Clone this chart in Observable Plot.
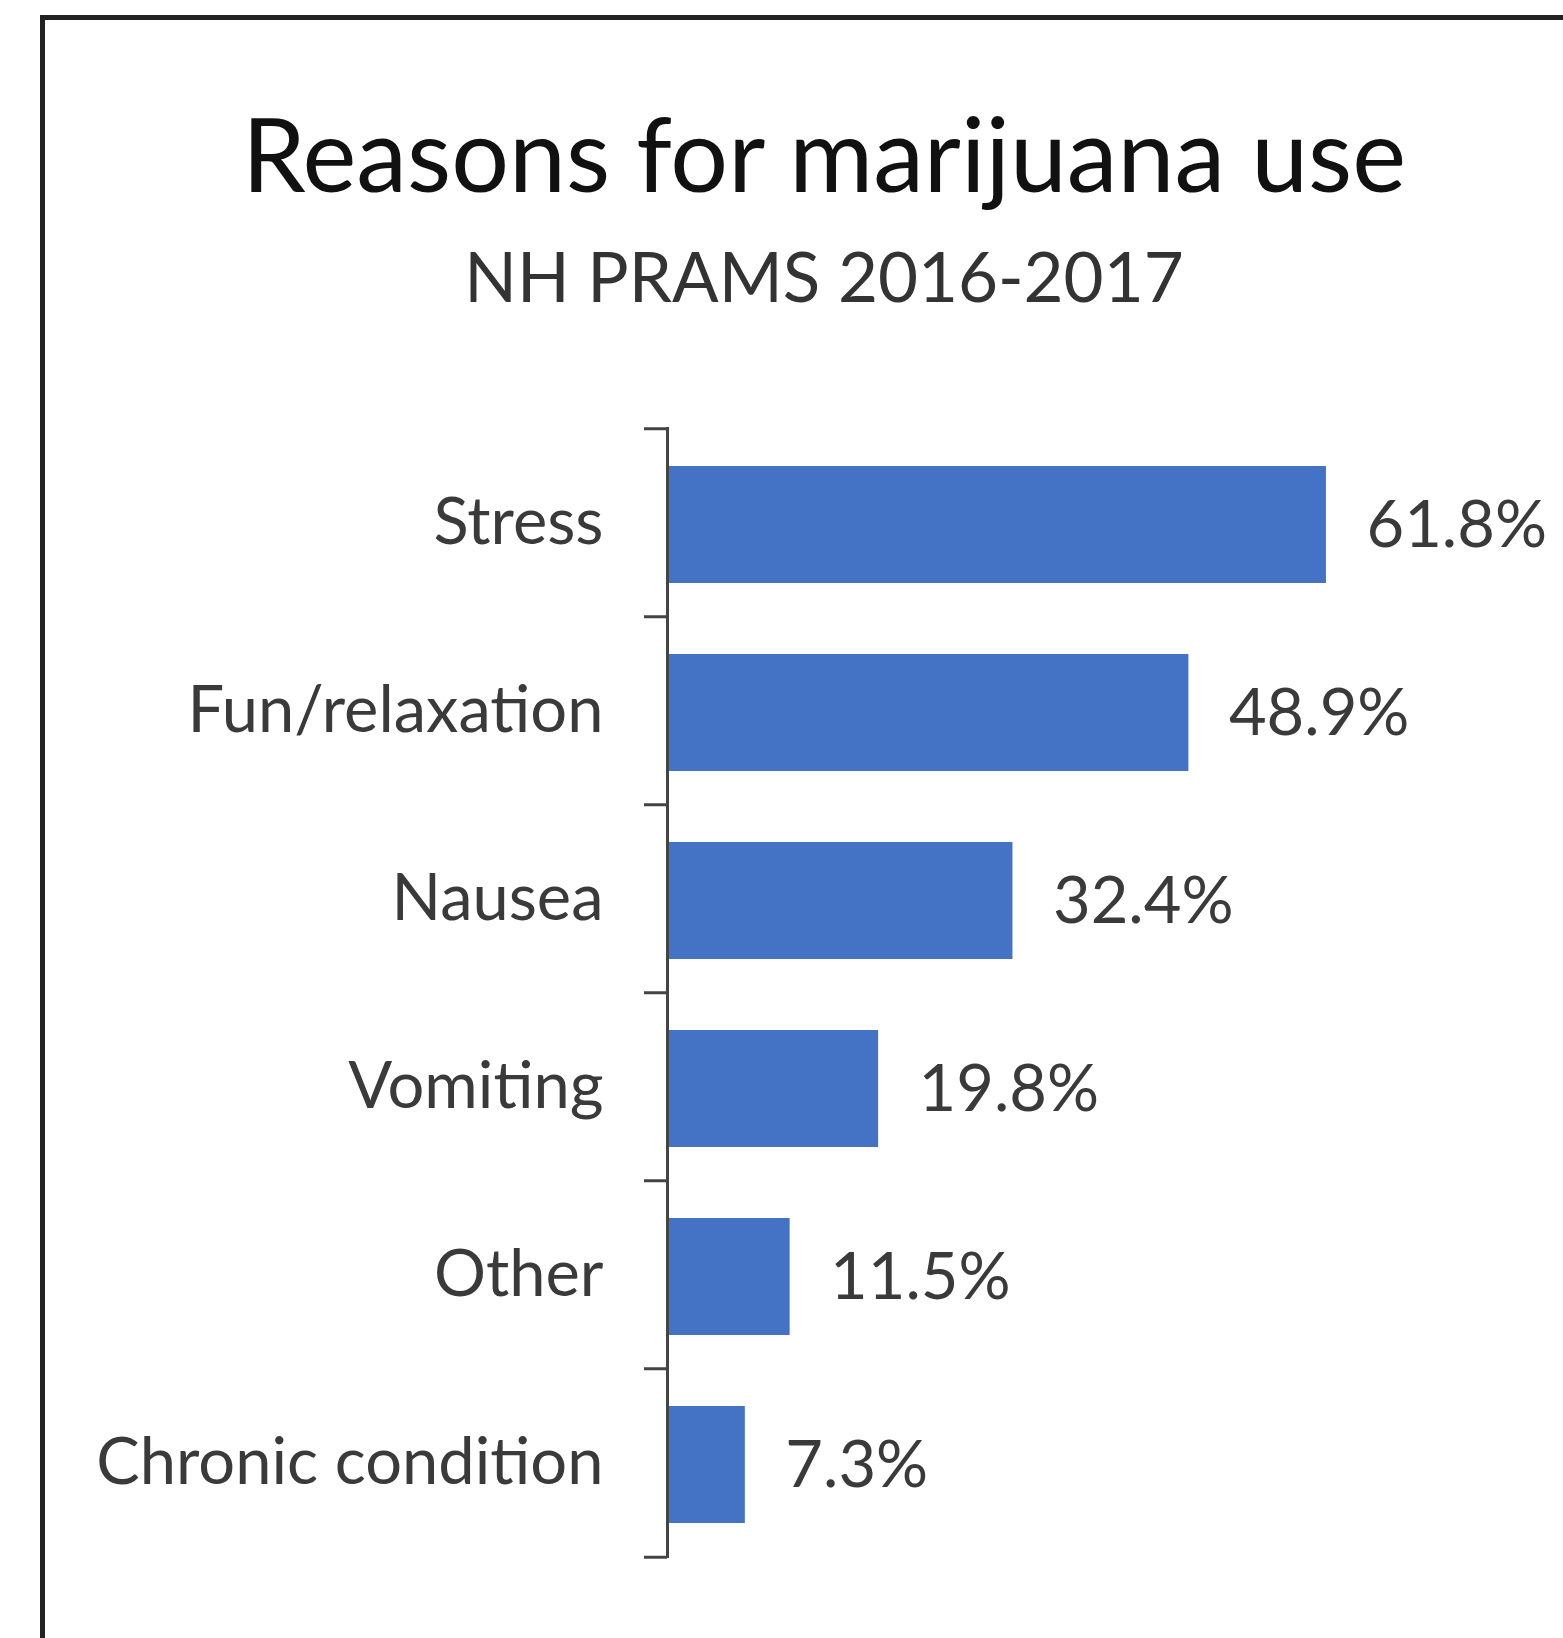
<!DOCTYPE html>
<html>
<head>
<meta charset="utf-8">
<script src="https://cdn.jsdelivr.net/npm/d3@7"></script>
<script src="https://cdn.jsdelivr.net/npm/@observablehq/plot@0.6"></script>
<style>
  html, body { margin: 0; padding: 0; background: #fff; overflow: hidden; }
  #page { position: relative; width: 1563px; height: 1638px; overflow: hidden; }
  #frame { position: absolute; left: 40px; top: 15px; width: 1700px; height: 1700px;
           border-left: 5px solid #222; border-top: 5px solid #222; box-sizing: border-box; }
  .ttl { position: absolute; left: 0; width: 1648px; text-align: center; font-family: Lato, sans-serif;
         line-height: 1; white-space: nowrap; }
  #title { top: 102px; font-size: 102px; color: #111; }
  #subtitle { top: 241px; font-size: 69px; color: #333; }
  #plot { position: absolute; left: 0; top: 340px; }
</style>
</head>
<body>
<div id="page">
  <div id="frame"></div>
  <div id="title" class="ttl">Reasons for marijuana use</div>
  <div id="subtitle" class="ttl">NH PRAMS 2016-2017</div>
  <div id="plot"></div>
</div>
<script>
const categories = ["Stress", "Fun/relaxation", "Nausea", "Vomiting", "Other", "Chronic condition"];
const values = [61.8, 48.9, 32.4, 19.8, 11.5, 7.3];
const valueLabels = ["61.8%", "48.9%", "32.4%", "19.8%", "11.5%", "7.3%"];

const data = categories.map((c, i) => ({category: c, value: values[i], label: valueLabels[i]}));

const W = 1563, H = 1298, mTop = 87, mBottom = 80, mLeft = 667, mRight = 43;
const step = (H - mTop - mBottom) / categories.length;
const font = "Lato, sans-serif";
const textColor = "#3a3a3a";
const axisColor = "#444";

const chart = Plot.plot({
  width: W,
  height: H,
  marginTop: mTop,
  marginBottom: mBottom,
  marginLeft: mLeft,
  marginRight: mRight,
  style: {background: "transparent", overflow: "visible"},
  x: {domain: [0, 80], axis: null},
  y: {domain: categories, paddingInner: 0.38, paddingOuter: 0.19, axis: null},
  marks: [
    Plot.barX(data, {x: "value", y: "category", fill: "#4472C4", dy: 2}),
    Plot.ruleX([0], {stroke: axisColor, strokeWidth: 3}),
    Plot.ruleY(categories, {y: d => d, x1: 0, x2: 0, insetLeft: -23, dy: -step / 2, stroke: axisColor, strokeWidth: 3}),
    Plot.ruleY(categories.slice(-1), {y: d => d, x1: 0, x2: 0, insetLeft: -23, dy: step / 2, stroke: axisColor, strokeWidth: 3}),
    Plot.text(data, {x: 0, y: "category", text: "category", textAnchor: "end", dx: -64,
      fontFamily: font, fontSize: 65, fill: textColor}),
    Plot.text(data, {x: "value", y: "category", text: "label", textAnchor: "start", dx: 40, dy: 3,
      fontFamily: font, fontSize: 65, fill: textColor})
  ]
});
document.getElementById("plot").appendChild(chart);
</script>
</body>
</html>
